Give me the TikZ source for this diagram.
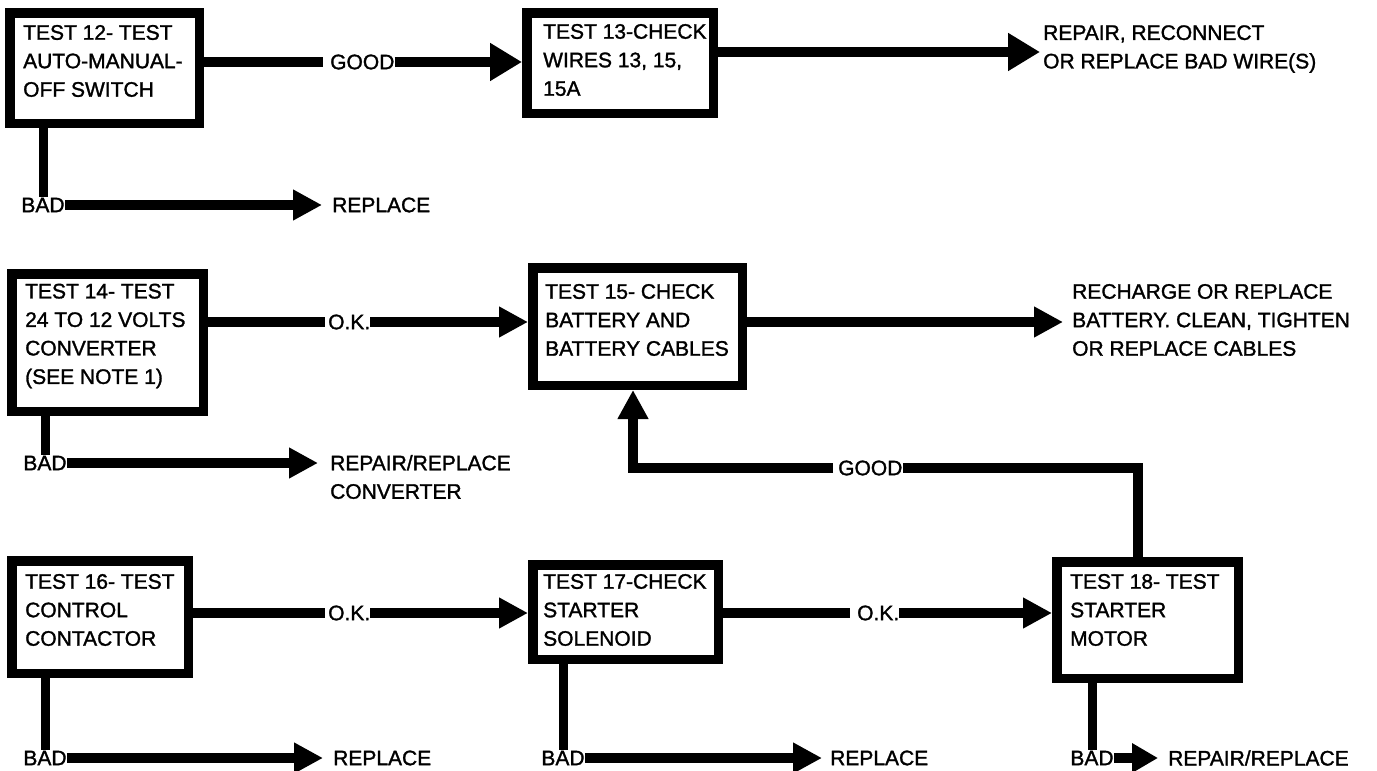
\documentclass[tikz,border=0pt]{standalone}
\usepackage{fontspec}
\setmainfont{Liberation Sans}
\newfontfamily\labfam{Liberation Sans}[FakeBold=1.4]
\usetikzlibrary{arrows.meta}
\newcommand\labfont{\labfam\fontsize{21}{28.5}\selectfont}
\begin{document}
\begin{tikzpicture}[x=1pt,y=-1pt,
  box/.style={draw, line width=9.5pt, inner sep=0pt, rectangle},
  conn/.style={line width=10pt},
  vconn/.style={line width=9pt},
  arr/.style={conn, -{Triangle[length=29pt,width=29pt]}},
  bigarr/.style={conn, -{Triangle[length=32pt,width=36pt]}},
  smallarr/.style={conn, -{Triangle[length=26pt,width=28pt]}},
  lbl/.style={inner xsep=0pt, inner ysep=1pt, font=\labfont},
  txt/.style={align=left, inner sep=0pt, font=\labfont}]
\useasboundingbox (0,0) rectangle (1377,771);

% boxes
\node[box, minimum width=189.5pt, minimum height=110.5pt] (b12) at (104.5,68) {};
\node[box, minimum width=186.5pt, minimum height=100.5pt] (b13) at (620,63) {};
\node[box, minimum width=191.5pt, minimum height=137.5pt] (b14) at (107.5,342.5) {};
\node[box, minimum width=209.5pt, minimum height=117.5pt] (b15) at (637.5,326.5) {};
\node[box, minimum width=176.5pt, minimum height=112.5pt] (b16) at (100,617) {};
\node[box, minimum width=185.5pt, minimum height=94.5pt] (b17) at (625.5,612) {};
\node[box, minimum width=181.5pt, minimum height=116.5pt] (b18) at (1147.5,620) {};

% box texts
\node[txt, anchor=west] (t12) at (23,61) {TEST 12- TEST\\AUTO-MANUAL-\\OFF SWITCH};
\node[txt, anchor=west] (t13) at (543,60) {TEST 13-CHECK\\WIRES 13, 15,\\15A};
\node[txt, anchor=west] (t14) at (25,336) {TEST 14- TEST\\24 TO 12 VOLTS\\CONVERTER\\(SEE NOTE 1)};
\node[txt, anchor=west] (t15) at (545,320) {TEST 15- CHECK\\BATTERY AND\\BATTERY CABLES};
\node[txt, anchor=west] (t16) at (25,610) {TEST 16- TEST\\CONTROL\\CONTACTOR};
\node[txt, anchor=west] (t17) at (543,610) {TEST 17-CHECK\\STARTER\\SOLENOID};
\node[txt, anchor=west] (t18) at (1070,610) {TEST 18- TEST\\STARTER\\MOTOR};

% row 1
\node[lbl, anchor=west] (g12) at (330,62) {GOOD};
\draw[conn, shorten >=7pt] (b12.east |- g12) -- (g12.west);
\draw[bigarr] (g12.east) -- (g12.east -| b13.west);
\node[lbl] (bad12) at (43,205) {BAD};
\draw[vconn] (b12.south -| bad12) -- (bad12.north);
\node[lbl, anchor=west] (rep12) at (332,205) {REPLACE};
\draw[arr, shorten >=10pt] (bad12.east) -- (rep12.west);
\node[txt, anchor=west] (r13) at (1043,49) {REPAIR, RECONNECT\\OR REPLACE BAD WIRE(S)};
\coordinate (c13) at (1040,52);
\draw[bigarr] (b13.east |- c13) -- (c13);

% row 2
\node[lbl, anchor=west] (ok14) at (328,322) {O.K.};
\draw[conn, shorten >=3pt] (b14.east |- ok14) -- (ok14.west);
\draw[arr] (ok14.east) -- (ok14.east -| b15.west);
\node[lbl] (bad14) at (45,463) {BAD};
\draw[vconn] (b14.south -| bad14) -- (bad14.north);
\node[txt, anchor=west] (rep14) at (330,477) {REPAIR/REPLACE\\CONVERTER};
\draw[arr, shorten >=12pt] (bad14.east) -- (bad14.east -| rep14.west);
\node[txt, anchor=west] (r15) at (1072,320) {RECHARGE OR REPLACE\\BATTERY. CLEAN, TIGHTEN\\OR REPLACE CABLES};
\draw[arr, shorten >=9pt] (b15.east |- ok14) -- (ok14 -| r15.west);

% good loop
\node[lbl, anchor=west] (g18) at (838,468) {GOOD};
\coordinate (k18) at (1138,468);
\coordinate (k15) at (633,468);
\draw[conn, line join=miter] (b18.north -| k18) -- (k18) -- (g18.east);
\draw[arr, line join=miter, shorten <=5pt] (g18.west) -- (k15) -- (k15 |- b15.south);

% row 3
\node[lbl, anchor=west] (ok16) at (328,613) {O.K.};
\draw[conn, shorten >=3pt] (b16.east |- ok16) -- (ok16.west);
\draw[arr] (ok16.east) -- (ok16.east -| b17.west);
\node[lbl] (bad16) at (45,758) {BAD};
\draw[vconn] (b16.south -| bad16) -- (bad16.north);
\node[lbl, anchor=west] (rep16) at (333,758) {REPLACE};
\draw[arr, shorten >=10pt] (bad16.east) -- (rep16.west);
\node[lbl, anchor=west] (ok17) at (857,613) {O.K.};
\draw[conn, shorten >=7pt] (b17.east |- ok17) -- (ok17.west);
\draw[arr] (ok17.east) -- (ok17.east -| b18.west);
\node[lbl] (bad17) at (563,758) {BAD};
\draw[vconn] (b17.south -| bad17) -- (bad17.north);
\node[lbl, anchor=west] (rep17) at (830,758) {REPLACE};
\draw[arr, shorten >=8pt] (bad17.east) -- (rep17.west);
\node[lbl] (bad18) at (1092,758) {BAD};
\draw[vconn] (b18.south -| bad18) -- (bad18.north);
\node[lbl, anchor=west] (rep18) at (1168,758) {REPAIR/REPLACE};
\draw[smallarr, shorten >=10pt] (bad18.east) -- (rep18.west);
\end{tikzpicture}
\end{document}
